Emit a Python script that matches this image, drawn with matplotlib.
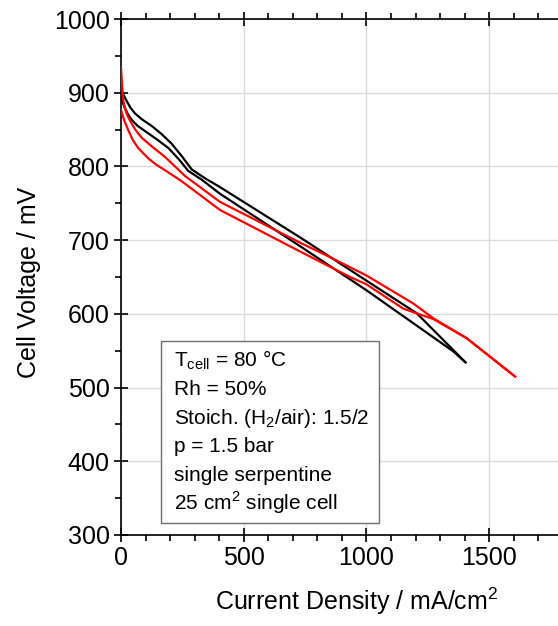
import numpy as np
import matplotlib
matplotlib.use("Agg")
import matplotlib.pyplot as plt
from matplotlib.ticker import MultipleLocator
from matplotlib.patches import Rectangle

plt.rcParams['font.family'] = ['Liberation Sans', 'DejaVu Sans']
plt.rcParams['mathtext.fontset'] = 'custom'
plt.rcParams['mathtext.rm'] = 'Liberation Sans'

# polarization curves, current density (mA/cm2) vs cell voltage (mV)
black1_j = [0, 5, 12, 23, 38, 57, 85, 125, 165, 206, 250, 288, 342, 403, 733, 1000, 1204, 1404]
black1_u = [908, 902, 896, 889, 880, 872, 864, 855, 844, 831, 813, 796, 784, 772, 703, 645, 601, 534]
black2_j = [0, 6, 15, 28, 44, 68, 98, 145, 193, 235, 274, 329, 403, 733, 1000, 1354, 1400]
black2_u = [895, 888, 880, 871, 863, 855, 848, 837, 825, 810, 794, 782, 763, 691, 632, 549, 535]
red1_j = [0, 3, 6, 10, 16, 25, 37, 58, 84, 130, 179, 220, 261, 403, 733, 851, 1000, 1191, 1272, 1408, 1605]
red1_u = [935, 918, 902, 888, 879, 870, 862, 850, 839, 826, 813, 800, 787, 752, 696, 677, 652, 614, 594, 567, 515]
red2_j = [0, 6, 15, 30, 48, 70, 111, 145, 179, 247, 403, 733, 933, 1000, 1150, 1272, 1408, 1605]
red2_u = [877, 870, 861, 849, 836, 825, 811, 802, 795, 780, 741, 684, 650, 640, 607, 593, 567, 515]

info_lines = [
    r"T$_{\mathregular{cell}}$ = 80 °C",
    "Rh = 50%",
    r"Stoich. (H$_{\mathregular{2}}$/air): 1.5/2",
    "p = 1.5 bar",
    "single serpentine",
    r"25 cm$^{\mathregular{2}}$ single cell",
]

fig = plt.figure(figsize=(5.58, 6.26), dpi=100)
ax = fig.add_axes([0.2168, 0.1454, 0.7832, 0.8242])

ax.plot(black1_j, black1_u, color="black", lw=1.6, zorder=3)
ax.plot(black2_j, black2_u, color="black", lw=1.6, zorder=3)
ax.plot(red1_j, red1_u, color="red", lw=1.6, zorder=3)
ax.plot(red2_j, red2_u, color="red", lw=1.6, zorder=3)

ax.set_xlim(0, 1780)
ax.set_ylim(300, 1000)
ax.xaxis.set_major_locator(MultipleLocator(500))
ax.xaxis.set_minor_locator(MultipleLocator(100))
ax.yaxis.set_major_locator(MultipleLocator(100))
ax.yaxis.set_minor_locator(MultipleLocator(50))
ax.grid(True, which="major", color="#dcdcdc", lw=1.0, zorder=0)

ax.spines["right"].set_visible(False)
for s in ["left", "bottom", "top"]:
    ax.spines[s].set_linewidth(1.2)

ax.tick_params(which="major", direction="inout", length=10, width=1.2,
               labelsize=18, top=True, pad=3)
ax.tick_params(which="minor", direction="out", length=4, width=1.2, top=True)
ax.tick_params(axis="y", right=False, which="both")

ax.set_xlabel("Current Density / mA/cm$^{\\mathregular{2}}$", fontsize=18)
ax.set_ylabel("Cell Voltage / mV", fontsize=18)
ax.xaxis.set_label_coords(0.54, -0.098)
ax.yaxis.set_label_coords(-0.183, 0.49)

ax.add_patch(Rectangle((0.0915, 0.0233), 0.4985, 0.3527, transform=ax.transAxes,
                       facecolor="white", edgecolor="#707070", lw=1.0, zorder=4))
for i, line in enumerate(info_lines):
    ax.text(0.122, 0.3275 - i * 0.0558, line, transform=ax.transAxes,
            fontsize=15, va="baseline", ha="left", zorder=5)

fig.savefig("out.png", dpi=100)
